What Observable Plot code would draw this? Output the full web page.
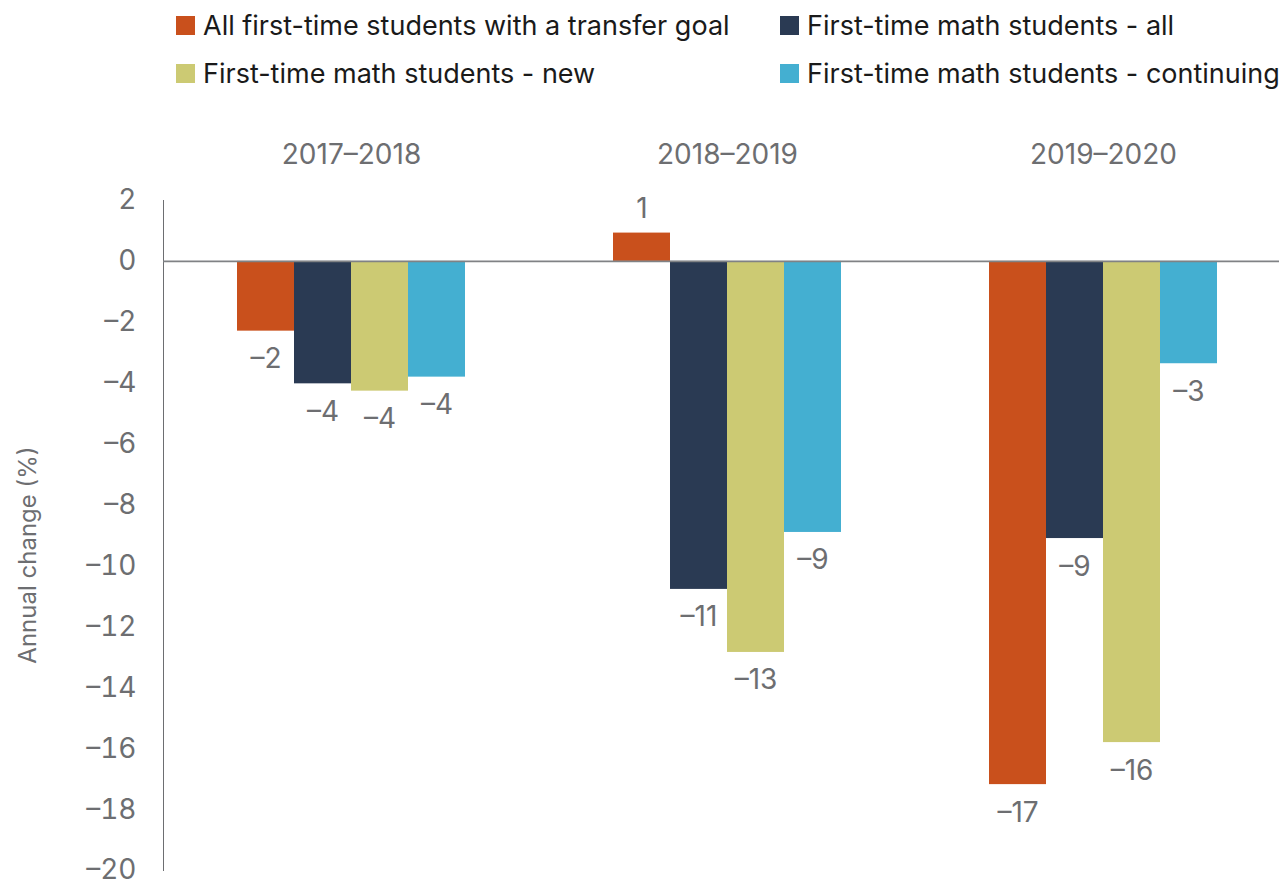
<!DOCTYPE html>
<html>
<head>
<meta charset="utf-8">
<script src="https://cdn.jsdelivr.net/npm/d3@7"></script>
<script src="https://cdn.jsdelivr.net/npm/@observablehq/plot@0.6"></script>
<style>
  html, body { margin: 0; padding: 0; background: #fff; overflow: hidden; }
  body { width: 1279px; height: 879px; font-family: Inter, "Liberation Sans", sans-serif; }
  #legend { position: relative; height: 100px; width: 1279px; }
  .item { position: absolute; display: flex; align-items: center; font-size: 27px; color: #1a1a1a; white-space: nowrap; height: 30px; }
  .sw { width: 19px; height: 19px; margin-right: 8px; flex: none; }
  #chart svg { display: block; overflow: visible; max-width: none !important; }
</style>
</head>
<body>
<div id="legend"></div>
<div id="chart"></div>
<script>
const years = ["2017–2018", "2018–2019", "2019–2020"];
const series = [
  "All first-time students with a transfer goal",
  "First-time math students - all",
  "First-time math students - new",
  "First-time math students - continuing"
];
const colors = ["#C9501C", "#2A3A53", "#CCCA73", "#44AFD1"];
// values per series, in order of years
const transferGoal = [-2.29, 0.93, -17.18];
const mathAll = [-4.02, -10.77, -9.1];
const mathNew = [-4.26, -12.84, -15.8];
const mathContinuing = [-3.8, -8.9, -3.36];
const yTicks = [2, 0, -2, -4, -6, -8, -10, -12, -14, -16, -18, -20];

const seriesValues = [transferGoal, mathAll, mathNew, mathContinuing];
const data = [];
years.forEach((yr, i) => {
  series.forEach((s, j) => data.push({year: yr, series: s, value: seriesValues[j][i]}));
});

const fmt = d => d < 0 ? "–" + Math.abs(d) : String(d);

// Legend
const legend = document.getElementById("legend");
const legendPos = [[176, 10], [780, 10], [176, 58], [780, 58]];
[0, 1, 2, 3].forEach((k, i) => {
  const el = document.createElement("div");
  el.className = "item";
  el.style.left = legendPos[i][0] + "px";
  el.style.top = legendPos[i][1] + "px";
  el.innerHTML = `<span class="sw" style="background:${colors[k]}"></span><span>${series[k]}</span>`;
  legend.appendChild(el);
});

const gray = "#6D6E71";
const chart = Plot.plot({
  width: 1292,
  height: 800,
  marginLeft: 162,
  marginRight: 0,
  marginTop: 100,
  marginBottom: 30,
  style: {fontFamily: "Inter, 'Liberation Sans', sans-serif", fontSize: "28px", color: gray, background: "transparent", maxWidth: "none"},
  fx: {domain: years, padding: 0, axis: "top", tickSize: 0, tickPadding: 37, label: null},
  x: {domain: series, paddingInner: 0, paddingOuter: 1.246, axis: null},
  y: {domain: [-20, 2], ticks: yTicks, tickFormat: fmt, tickSize: 0, tickPadding: 27, label: null, line: true},
  color: {domain: series, range: colors},
  marks: [
    Plot.barY(data, {fx: "year", x: "series", y: "value", fill: "series"}),
    Plot.ruleY([0], {stroke: "#808285", strokeWidth: 1.6}),
    Plot.text(data.filter(d => d.value < 0), {fx: "year", x: "series", y: "value", text: d => fmt(Math.round(d.value)), dy: 28, fill: gray, fontSize: 28}),
    Plot.text(data.filter(d => d.value >= 0), {fx: "year", x: "series", y: "value", text: d => fmt(Math.round(d.value)), dy: -24, fill: gray, fontSize: 28})
  ]
});
document.getElementById("chart").appendChild(chart);

// y-axis title
d3.select(chart).append("text")
  .attr("transform", "translate(27,455) rotate(-90)")
  .attr("text-anchor", "middle")
  .attr("dominant-baseline", "central")
  .attr("fill", gray)
  .attr("font-size", 24)
  .attr("font-family", "Inter, 'Liberation Sans', sans-serif")
  .text("Annual change (%)");
</script>
</body>
</html>
